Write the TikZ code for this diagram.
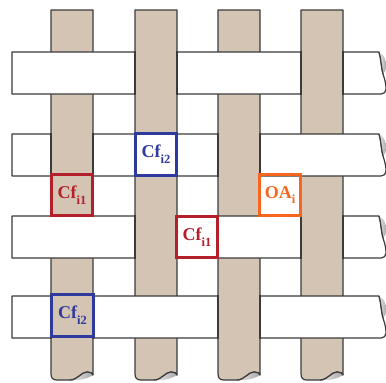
\documentclass[tikz,border=0pt]{standalone}
\usepackage{fontspec}
\setmainfont{Liberation Serif}
\definecolor{yarn}{HTML}{D4C4B4}
\definecolor{edge}{HTML}{3A3A3A}
\definecolor{cfred}{HTML}{B3202A}
\definecolor{cfblue}{HTML}{2E3A9C}
\definecolor{oaorange}{HTML}{F7651F}
\newcommand\lowtag[1]{\raisebox{-0.32em}{\fontsize{12.5}{12.5}\selectfont #1}}
\tikzset{
  strand/.style={draw=edge, line width=1.2pt, line join=round},
  warp/.style={strand, fill=yarn},
  weft/.style={strand, fill=white},
  cutend/.style={left color=gray!15, right color=gray!70},
  tag/.style={draw, line width=2.6pt, minimum width=41.5pt, minimum height=41.5pt,
    inner sep=0pt, font=\bfseries\fontsize{18}{18}\selectfont},
}
\begin{document}
\begin{tikzpicture}[x=1pt, y=-1pt]
  \useasboundingbox (0,0) rectangle (386,383);

  % vertical (warp) yarns with cut ends at the bottom
  \foreach \x [count=\i] in {51,135,218,301} {
    \draw[warp] (\x,10) -- (\x,374) .. controls (\x,378) and (\x+2,380) .. (\x+6,380)
      -- (\x+19,380) .. controls (\x+27,380) and (\x+30,372) .. (\x+36,372)
      .. controls (\x+39,372) and (\x+42,373) .. (\x+42,375) -- (\x+42,10) -- cycle;
    \shade[cutend] (\x+19,380) .. controls (\x+27,380) and (\x+30,372) .. (\x+36,372)
      .. controls (\x+39,372) and (\x+42,373) .. (\x+42,375)
      .. controls (\x+36,379) and (\x+27,381) .. (\x+19,380) -- cycle;
    \draw[edge, line width=1.2pt] (\x+19,380) .. controls (\x+27,380) and (\x+30,372) .. (\x+36,372)
      .. controls (\x+39,372) and (\x+42,373) .. (\x+42,375);
    \coordinate (warp\i) at (\x,0);
  }

  % horizontal (weft) yarns with cut ends on the right
  \foreach \y in {52,134,216,296} {
    \draw[weft] (12,\y) -- (379,\y) .. controls (381,\y+6) and (381,\y+14) .. (383,\y+22)
      .. controls (385,\y+28) and (386,\y+32) .. (386,\y+37)
      .. controls (386,\y+40) and (384,\y+42) .. (381,\y+42) -- (12,\y+42) -- cycle;
    \shade[cutend] (379,\y) .. controls (384,\y+2) and (386,\y+8) .. (386,\y+14)
      .. controls (386,\y+18) and (385,\y+21) .. (383,\y+22)
      .. controls (381,\y+14) and (381,\y+6) .. (379,\y) -- cycle;
    \draw[edge, line width=1.2pt] (379,\y) .. controls (381,\y+6) and (381,\y+14) .. (383,\y+22);
  }

  % crossings where the warp lies on top of the weft
  \foreach \x/\y in {135/52, 301/52, 51/134, 218/134, 135/216, 301/216, 51/296, 218/296} {
    \fill[yarn] (\x+0.6,\y-1) rectangle (\x+41.4,\y+43);
    \draw[edge, line width=1.2pt] (\x,\y-1) -- (\x,\y+43) (\x+42,\y-1) -- (\x+42,\y+43);
  }

  % marked cells
  \node[tag, draw=cfred, text=cfred]       (cfa) at (72,195)    {Cf\lowtag{i1}};
  \node[tag, draw=cfblue, text=cfblue]     (cfb) at (156,154.5) {Cf\lowtag{i2}};
  \node[tag, draw=oaorange, text=oaorange] (oa)  at (280,195)   {OA\lowtag{i}};
  \node[tag, draw=cfred, text=cfred]       (cfc) at (197,237)   {Cf\lowtag{i1}};
  \node[tag, draw=cfblue, text=cfblue]     (cfd) at (72.5,315.5) {Cf\lowtag{i2}};
\end{tikzpicture}
\end{document}
